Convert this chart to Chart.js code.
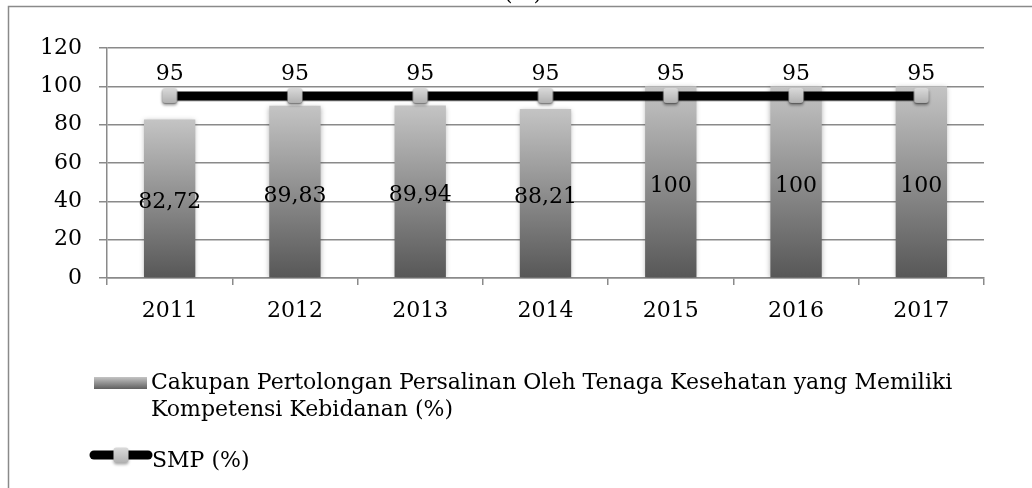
<!DOCTYPE html>
<html>
<head>
<meta charset="utf-8">
<script src="https://cdn.jsdelivr.net/npm/chart.js@4.4.1/dist/chart.umd.min.js"></script>
<style>
  body { margin: 0; background: #fff; }
</style>
</head>
<body>
<canvas id="myChart" width="1032" height="488"></canvas>
<script>
// data
const years = ["2011", "2012", "2013", "2014", "2015", "2016", "2017"];
const cakupan = [82.72, 89.83, 89.94, 88.21, 100, 100, 100];
const smp = [95, 95, 95, 95, 95, 95, 95];
const cakupanLabel = [
  "Cakupan Pertolongan Persalinan Oleh Tenaga Kesehatan yang Memiliki",
  "Kompetensi Kebidanan (%)"
];
const smpLabel = "SMP (%)";
const titleText = "(%)";

const FONT = "DejaVu Serif";
const FS = 22;
const GRID = "#8a8a8a";

function fmt(v) {
  return String(v).replace(".", ",");
}

function barGradient(c, yTop, yBase) {
  const g = c.createLinearGradient(0, yTop, 0, yBase);
  g.addColorStop(0, "#c4c4c4");
  g.addColorStop(1, "#575757");
  return g;
}

function drawMarker(c, x, y, s) {
  c.save();
  c.shadowColor = "rgba(0,0,0,0.35)";
  c.shadowBlur = 3;
  c.shadowOffsetY = 2;
  const g = c.createLinearGradient(0, y - s / 2, 0, y + s / 2);
  g.addColorStop(0, "#dadada");
  g.addColorStop(1, "#b2b2b2");
  c.fillStyle = g;
  c.beginPath();
  c.roundRect(x - s / 2, y - s / 2, s, s, 3);
  c.fill();
  c.restore();
}

// marker image used as the line's point style
const markerImg = document.createElement("canvas");
markerImg.width = 22;
markerImg.height = 24;
drawMarker(markerImg.getContext("2d"), 11, 11.5, 15);

// frame, cut-off title and background
const framePlugin = {
  id: "frame",
  beforeDraw(chart) {
    const c = chart.ctx;
    c.save();
    c.fillStyle = "#fff";
    c.fillRect(0, 0, chart.width, chart.height);
    c.strokeStyle = GRID;
    c.lineWidth = 1.5;
    c.strokeRect(8.5, 6.5, 1200, 700);
    c.fillStyle = "#000";
    c.font = FS + "px '" + FONT + "'";
    c.textAlign = "center";
    c.textBaseline = "alphabetic";
    c.fillText(titleText, 523, 0);
    c.restore();
  }
};

// soft shadow round the bars
const shadowPlugin = {
  id: "shadow",
  beforeDatasetDraw(chart, args) {
    const c = chart.ctx;
    c.save();
    c.shadowColor = "rgba(0,0,0,0.3)";
    c.shadowBlur = args.index === 0 ? 5 : 0;
    c.shadowOffsetY = 1;
  },
  afterDatasetDraw(chart) {
    chart.ctx.restore();
  }
};

// value labels
const labelPlugin = {
  id: "valueLabels",
  afterDatasetsDraw(chart) {
    const c = chart.ctx;
    c.save();
    c.fillStyle = "#000";
    c.font = FS + "px '" + FONT + "'";
    c.textAlign = "center";
    c.textBaseline = "alphabetic";
    chart.getDatasetMeta(0).data.forEach((bar, i) => {
      const mid = (bar.y + bar.base) / 2;
      c.fillText(fmt(cakupan[i]), bar.x, mid + 10);
    });
    chart.getDatasetMeta(1).data.forEach((pt, i) => {
      c.fillText(fmt(smp[i]), pt.x, pt.y - 16);
    });
    c.restore();
  }
};

// legend under the plot
const legendPlugin = {
  id: "customLegend",
  afterDraw(chart) {
    const c = chart.ctx;
    c.save();
    c.fillStyle = barGradient(c, 377, 390);
    c.fillRect(94, 377, 53, 12);
    c.fillStyle = "#000";
    c.font = FS + "px '" + FONT + "'";
    c.textAlign = "left";
    c.textBaseline = "alphabetic";
    c.fillText(cakupanLabel[0], 151, 389);
    c.fillText(cakupanLabel[1], 151, 416);

    c.strokeStyle = "#000";
    c.lineWidth = 9;
    c.lineCap = "round";
    c.beginPath();
    c.moveTo(94, 455);
    c.lineTo(148, 455);
    c.stroke();
    drawMarker(c, 121, 455, 15);
    c.fillStyle = "#000";
    c.fillText(smpLabel, 152, 467);
    c.restore();
  }
};

new Chart(document.getElementById("myChart"), {
  data: {
    labels: years,
    datasets: [
      {
        type: "bar",
        label: cakupanLabel.join(" "),
        data: cakupan,
        order: 2,
        barPercentage: 0.41,
        categoryPercentage: 1,
        backgroundColor: (ctx) => {
          const chart = ctx.chart;
          const y = chart.scales && chart.scales.y;
          if (!chart.chartArea || !y) return "#999";
          const top = y.getPixelForValue(ctx.raw);
          const base = y.getPixelForValue(0);
          if (!isFinite(top) || !isFinite(base) || top === base) return "#999";
          return barGradient(chart.ctx, top, base);
        }
      },
      {
        type: "line",
        label: smpLabel,
        data: smp,
        order: 1,
        borderColor: "#000",
        borderWidth: 9,
        pointStyle: markerImg,
        pointRadius: 9
      }
    ]
  },
  options: {
    responsive: false,
    animation: false,
    layout: { padding: { top: 48, right: 48, bottom: 170, left: 0 } },
    plugins: {
      legend: { display: false },
      title: { display: false },
      tooltip: { enabled: false }
    },
    scales: {
      x: {
        afterFit: (s) => { s.height = 40; },
        grid: { drawOnChartArea: false, color: GRID, lineWidth: 1.5, tickLength: 7 },
        border: { color: GRID, width: 1.5 },
        ticks: { color: "#000", font: { family: FONT, size: FS }, padding: 13 }
      },
      y: {
        min: 0,
        max: 120,
        afterFit: (s) => { s.width = 107; },
        grid: { color: GRID, lineWidth: 1.5, tickLength: 8 },
        border: { color: GRID, width: 1.5 },
        ticks: { stepSize: 20, color: "#000", font: { family: FONT, size: FS }, padding: 17 }
      }
    }
  },
  plugins: [framePlugin, shadowPlugin, labelPlugin, legendPlugin]
});
</script>
</body>
</html>
